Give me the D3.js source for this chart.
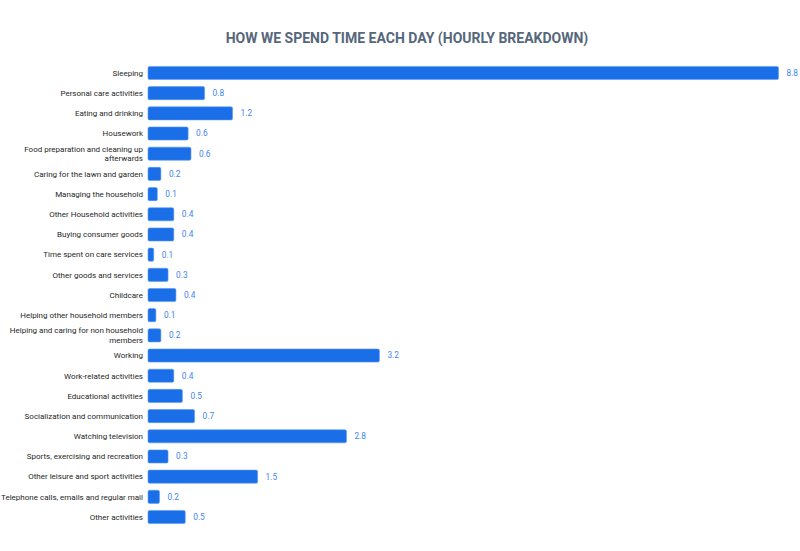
<!DOCTYPE html>
<html>
<head>
<meta charset="utf-8">
<script src="https://cdn.jsdelivr.net/npm/d3@7"></script>
<style>
  body { margin: 0; background: #fff; }
  svg { font-family: Roboto, "Noto Sans", sans-serif; }
</style>
</head>
<body>
<div id="chart"></div>
<script>
// Activities and hours per day (bar lengths)
const activities = [
  "Sleeping",
  "Personal care activities",
  "Eating and drinking",
  "Housework",
  "Food preparation and cleaning up afterwards",
  "Caring for the lawn and garden",
  "Managing the household",
  "Other Household activities",
  "Buying consumer goods",
  "Time spent on care services",
  "Other goods and services",
  "Childcare",
  "Helping other household members",
  "Helping and caring for non household members",
  "Working",
  "Work-related activities",
  "Educational activities",
  "Socialization and communication",
  "Watching television",
  "Sports, exercising and recreation",
  "Other leisure and sport activities",
  "Telephone calls, emails and regular mail",
  "Other activities"
];
const hours = [8.8, 0.79, 1.18, 0.56, 0.6, 0.18, 0.13, 0.36, 0.36, 0.08, 0.28, 0.39,
  0.11, 0.18, 3.23, 0.36, 0.48, 0.65, 2.77, 0.28, 1.53, 0.16, 0.52];

const data = activities.map((a, i) => ({ name: a, value: hours[i] }));

const width = 800, height = 551;

const svg = d3.select("#chart")
  .append("svg")
  .attr("width", width)
  .attr("height", height);

const x = d3.scaleLinear()
  .domain([0, 8.8])
  .range([148, 778.5]);

const y = d3.scaleBand()
  .domain(activities)
  .range([62.9, 527.1])
  .paddingInner(0.35)
  .paddingOuter(0.175);

const fmt = d3.format(".1f");

svg.append("text")
  .attr("x", 407)
  .attr("y", 43)
  .attr("text-anchor", "middle")
  .style("font-size", "14px")
  .style("font-weight", "bold")
  .style("fill", "#56677b")
  .text("HOW WE SPEND TIME EACH DAY (HOURLY BREAKDOWN)");

// bars
svg.append("g")
  .selectAll("rect")
  .data(data)
  .join("rect")
  .attr("x", x(0))
  .attr("y", d => y(d.name))
  .attr("width", d => x(d.value) - x(0))
  .attr("height", y.bandwidth())
  .attr("rx", 1.5)
  .attr("fill", "#1a6fe8")
  .attr("stroke", "#5c9bf0")
  .attr("stroke-width", 0.6);

// value labels
svg.append("g")
  .selectAll("text")
  .data(data)
  .join("text")
  .attr("x", d => x(d.value) + 8)
  .attr("y", d => y(d.name) + y.bandwidth() / 2)
  .attr("dy", "0.35em")
  .style("font-size", "8.3px")
  .style("fill", "#3f84f0")
  .text(d => fmt(d.value));

// category labels, wrapped
const labels = svg.append("g")
  .selectAll("text")
  .data(data)
  .join("text")
  .attr("x", 143)
  .attr("y", d => y(d.name) + y.bandwidth() / 2)
  .attr("text-anchor", "end")
  .style("font-size", "8px")
  .style("fill", "#1f1f1f");

labels.each(function(d) {
  const t = d3.select(this);
  const words = d.name.split(" ");
  const lines = [];
  let line = [];
  const tmp = t.append("tspan");
  words.forEach(w => {
    line.push(w);
    tmp.text(line.join(" "));
    if (tmp.node().getComputedTextLength() > 143 && line.length > 1) {
      line.pop();
      lines.push(line.join(" "));
      line = [w];
    }
  });
  lines.push(line.join(" "));
  tmp.remove();
  const lh = 9.5;
  lines.forEach((l, i) => {
    t.append("tspan")
      .attr("x", 143)
      .attr("dy", i === 0 ? (0.35 * 8 - (lines.length - 1) * lh / 2) + "px" : lh + "px")
      .text(l);
  });
});
</script>
</body>
</html>
